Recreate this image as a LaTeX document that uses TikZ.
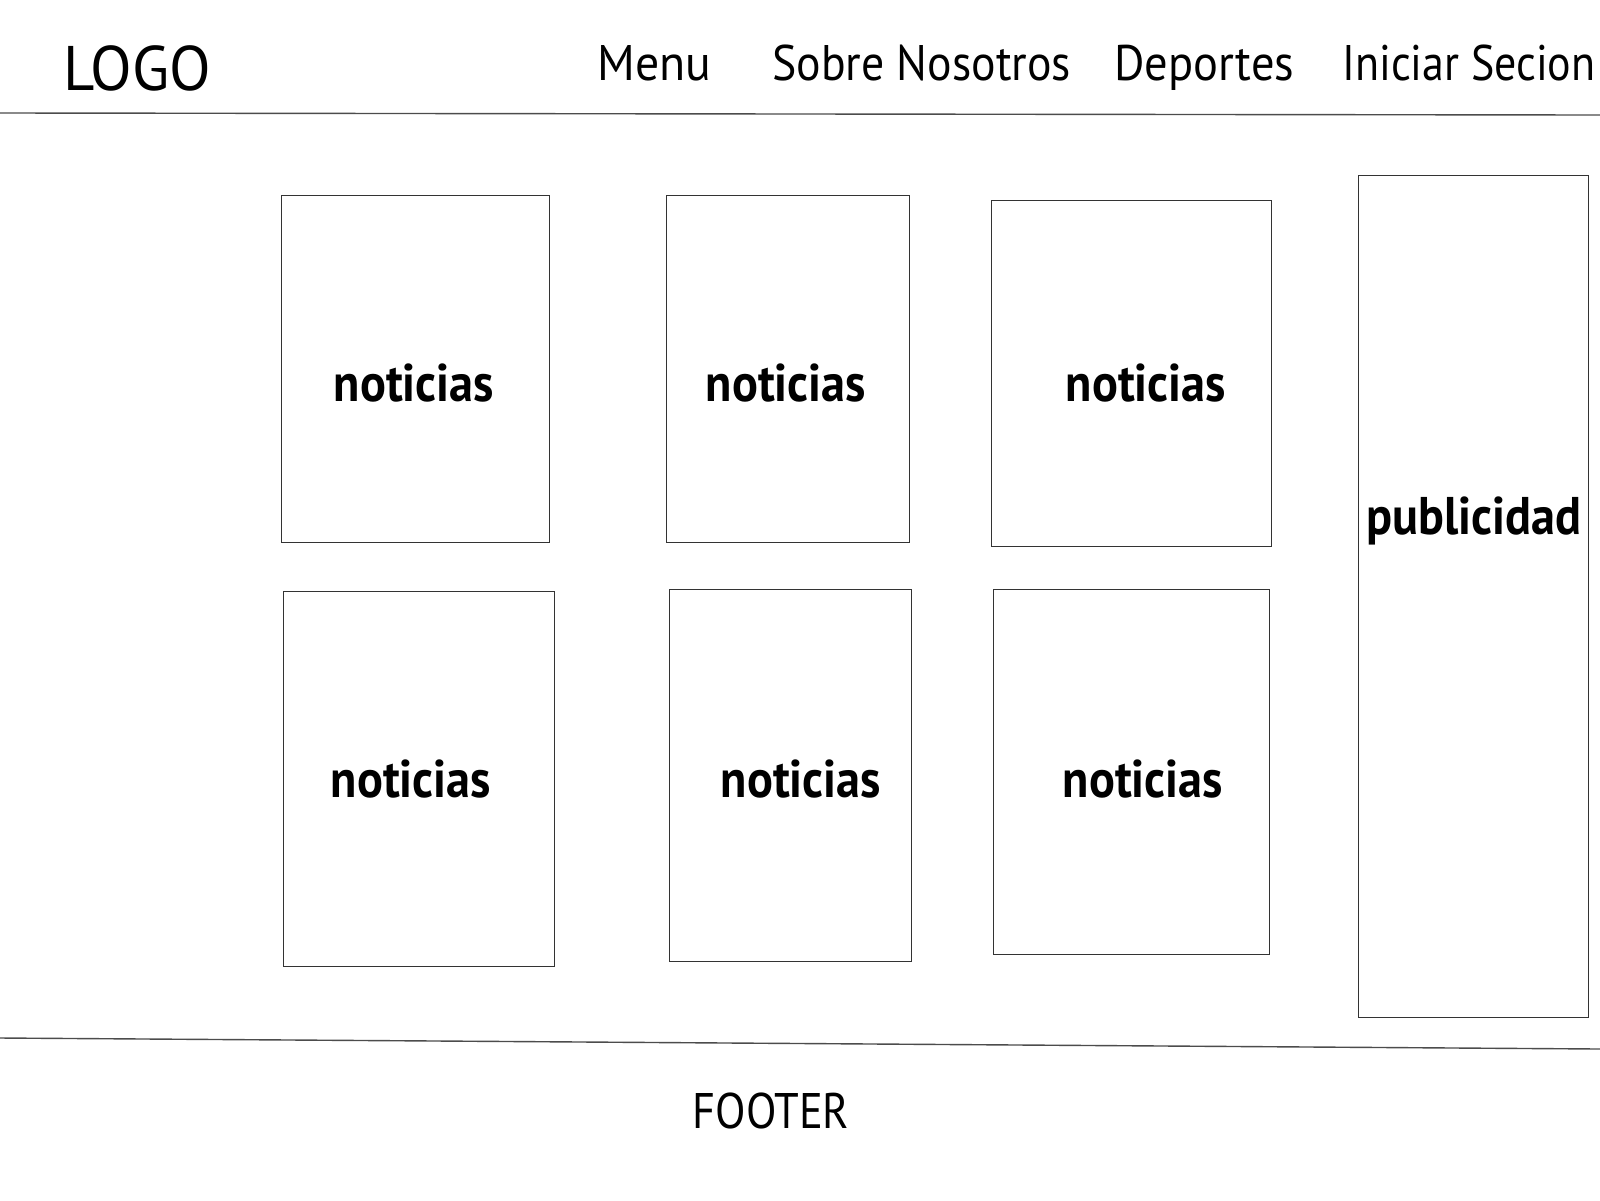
\documentclass[tikz,border=0pt]{standalone}
\usepackage{fontspec}
\setmainfont{PT Sans}
\begin{document}
\begin{tikzpicture}[x=0.5pt,y=-0.5pt,
  boxst/.style={draw=black!80, line width=0.6pt, inner sep=0pt, anchor=north west},
  rule/.style={draw=black!70, line width=0.7pt},
  navtxt/.style={inner sep=0pt, anchor=base west, font=\fontsize{25}{30}\selectfont},
  logotxt/.style={inner sep=0pt, anchor=base west, font=\fontsize{31.5}{36}\selectfont},
  celltxt/.style={inner sep=0pt, anchor=base, font=\fontsize{26.5}{32}\selectfont\bfseries},
  foottxt/.style={inner sep=0pt, anchor=base, font=\fontsize{25}{30}\selectfont}]
\useasboundingbox (0,0) rectangle (1600,1200);
\fill[white] (0,0) rectangle (1600,1200);
% header
\node[logotxt] (logo) at (63,90) {\scalebox{0.965}[1]{LOGO}};
\node[navtxt] (menu) at (597,80) {\scalebox{0.955}[1]{Menu}};
\node[navtxt] (sobre) at (772,80) {\scalebox{0.915}[1]{Sobre Nosotros}};
\node[navtxt] (dep) at (1114,80) {\scalebox{0.93}[1]{Deportes}};
\node[navtxt] (ini) at (1342,80) {\resizebox{126.5pt}{\height}{Iniciar Secion}};
\coordinate (hl) at (0,113);
\coordinate (hr) at (1600,115);
\draw[rule] (hl) -- (hr);
% boxes
\node[boxst, minimum width=134pt, minimum height=173.5pt] (b1) at (281,195) {};
\node[boxst, minimum width=121.5pt, minimum height=173.5pt] (b2) at (666,195) {};
\node[boxst, minimum width=140pt, minimum height=173pt] (b3) at (991,200) {};
\node[boxst, minimum width=135.5pt, minimum height=187.5pt] (b4) at (283,591) {};
\node[boxst, minimum width=121pt, minimum height=186pt] (b5) at (669,589) {};
\node[boxst, minimum width=138pt, minimum height=182.5pt] (b6) at (993,589) {};
\node[boxst, minimum width=115pt, minimum height=421pt] (pub) at (1358,175) {};
% labels
\node[celltxt] (t1) at (414,401) {\scalebox{0.91}[1]{noticias}};
\node[celltxt] (t2) at (786,401) {\scalebox{0.91}[1]{noticias}};
\node[celltxt] (t3) at (1146,401) {\scalebox{0.91}[1]{noticias}};
\node[celltxt] (t4) at (411,797) {\scalebox{0.91}[1]{noticias}};
\node[celltxt] (t5) at (801,797) {\scalebox{0.91}[1]{noticias}};
\node[celltxt] (t6) at (1143,797) {\scalebox{0.91}[1]{noticias}};
\node[celltxt] (tp) at (1474,534) {\scalebox{0.91}[1]{publicidad}};
% footer
\coordinate (fl) at (0,1038);
\coordinate (fr) at (1600,1049);
\draw[rule] (fl) -- (fr);
\node[foottxt] (foot) at (771,1128) {\scalebox{0.89}[1]{FOOTER}};
\end{tikzpicture}
\end{document}
